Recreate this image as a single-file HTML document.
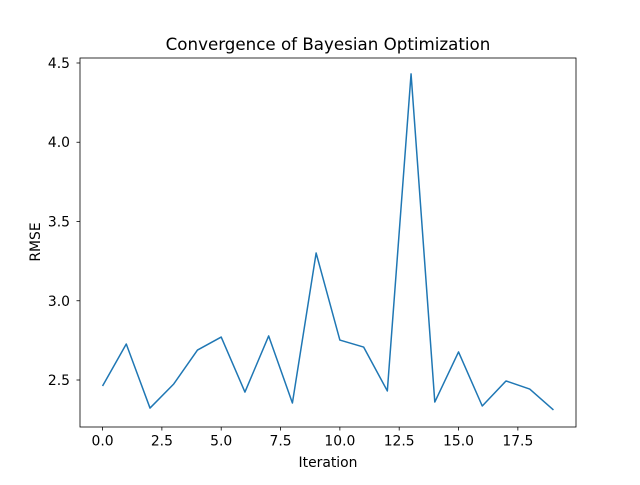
<!DOCTYPE html>
<html><head><meta charset="utf-8"><style>
body{margin:0;background:#fff;}
svg{font-family:"DejaVu Sans","Liberation Sans",sans-serif;}
</style></head><body>
<svg id="chart" width="640" height="480" viewBox="0 0 640 480">
<rect width="640" height="480" fill="#fff"/>
<text x="328" y="50" text-anchor="middle" font-size="16.7">Convergence of Bayesian Optimization</text>
<g id="ticks"></g>
<polyline id="line" fill="none" stroke="#1f77b4" stroke-width="1.5" stroke-linejoin="round"/>
<rect x="80" y="58" width="496" height="369" fill="none" stroke="#000" stroke-width="0.8"/>
<text x="328" y="467" text-anchor="middle" font-size="13.9">Iteration</text>
<text x="40" y="242" text-anchor="middle" font-size="13.9" transform="rotate(-90 40 242)">RMSE</text>
</svg>
<script>
const iterations=[0,1,2,3,4,5,6,7,8,9,10,11,12,13,14,15,16,17,18,19];
const rmse=[2.462,2.727,2.323,2.475,2.689,2.771,2.424,2.778,2.355,3.301,2.752,2.708,2.431,4.431,2.361,2.677,2.336,2.494,2.443,2.311];
const xTicks=[0,2.5,5,7.5,10,12.5,15,17.5];
const xTickLabels=["0.0","2.5","5.0","7.5","10.0","12.5","15.0","17.5"];
const yTicks=[2.5,3.0,3.5,4.0,4.5];
const yTickLabels=["2.5","3.0","3.5","4.0","4.5"];
const L=80,R=576,T=58,B=427;
const xmin=-0.95,xmax=19.95,ymin=2.2035,ymax=4.5315;
const sx=v=>L+(v-xmin)/(xmax-xmin)*(R-L);
const sy=v=>B-(v-ymin)/(ymax-ymin)*(B-T);
const NS="http://www.w3.org/2000/svg";
const g=document.getElementById('ticks');
function mk(t,a){const e=document.createElementNS(NS,t);for(const k in a)e.setAttribute(k,a[k]);return e;}
xTicks.forEach((v,i)=>{
  const l=mk('line',{x1:sx(v),x2:sx(v),y1:B,y2:B+3.5,stroke:'#000','stroke-width':0.8});
  
  
  g.appendChild(l);
  const t=mk('text',{x:sx(v),y:B+18.5,'text-anchor':'middle','font-size':13.9});
  
  
  t.textContent=xTickLabels[i];g.appendChild(t);
});
yTicks.forEach((v,i)=>{
  const l=mk('line',{x1:L-3.5,x2:L,y1:sy(v),y2:sy(v),stroke:'#000','stroke-width':0.8});
  
  
  g.appendChild(l);
  const t=mk('text',{x:L-10,y:sy(v)+5,'text-anchor':'end','font-size':13.9});
  
  
  t.textContent=yTickLabels[i];g.appendChild(t);
});
document.getElementById('line').setAttribute('points',iterations.map((x,i)=>sx(x)+','+sy(rmse[i])).join(' '));
</script>
</body></html>
